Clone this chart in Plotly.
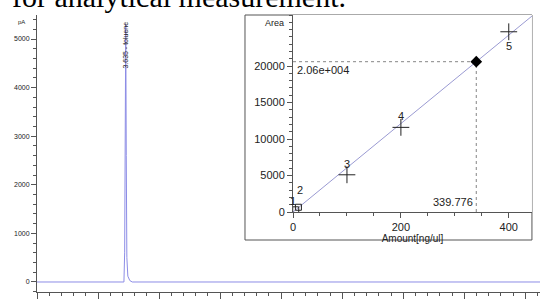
import plotly.graph_objects as go

# Chromatogram (main panel)
chrom_time = [0.0, 3.56, 3.59, 3.61, 3.635, 3.655, 3.68, 3.72, 3.80, 3.90, 20.6]
chrom_signal = [0, 0, 600, 2600, 5300, 2600, 500, 120, 30, 0, 0]
peak_label = "3.635 - toluene"
peak_time = 3.635

# Calibration (inset)
cal_ids = ["1", "2", "3", "4", "5"]
cal_amount = [5, 10, 100, 200, 400]
cal_area = [300, 650, 5100, 11600, 24700]
fit_amount = [0, 443]
fit_area = [0, 26850]
meas_amount = 339.776
meas_area = 20600
meas_area_label = "2.06e+004"
meas_amount_label = "339.776"
inset_yticks = [0, 5000, 10000, 15000, 20000]
inset_xticks = [0, 200, 400]

axis_col = "#555555"
txt_col = "#222222"

fig = go.Figure()

fig.add_trace(go.Scatter(x=chrom_time, y=chrom_signal, mode="lines",
                         line=dict(color="#8c8ce6", width=1), showlegend=False,
                         xaxis="x", yaxis="y"))

# inset traces
fig.add_trace(go.Scatter(x=fit_amount, y=fit_area, mode="lines",
                         line=dict(color="#9a9ad2", width=1), showlegend=False,
                         xaxis="x2", yaxis="y2"))
fig.add_trace(go.Scatter(x=[0, meas_amount], y=[meas_area, meas_area], mode="lines",
                         line=dict(color="#666666", width=0.8, dash="dot"), showlegend=False,
                         xaxis="x2", yaxis="y2"))
fig.add_trace(go.Scatter(x=[meas_amount, meas_amount], y=[0, meas_area], mode="lines",
                         line=dict(color="#666666", width=0.8, dash="dot"), showlegend=False,
                         xaxis="x2", yaxis="y2"))
fig.add_trace(go.Scatter(x=cal_amount[2:], y=cal_area[2:], mode="markers",
                         marker=dict(symbol="cross-thin", size=12, line=dict(color="#222222", width=1)),
                         showlegend=False, xaxis="x2", yaxis="y2"))
fig.add_trace(go.Scatter(x=cal_amount[:2], y=cal_area[:2], mode="markers",
                         marker=dict(symbol="square-open", size=6, color="#222222", line=dict(width=1)),
                         showlegend=False, xaxis="x2", yaxis="y2"))
fig.add_trace(go.Scatter(x=[meas_amount], y=[meas_area], mode="markers",
                         marker=dict(symbol="diamond", size=9, color="black"),
                         showlegend=False, xaxis="x2", yaxis="y2"))

annotations = []
# cut-off title text at top
annotations.append(dict(text="for analytical measurement.", xref="paper", yref="paper",
                        x=-0.054, y=1.0, xanchor="left", yanchor="bottom", showarrow=False,
                        font=dict(family="Liberation Serif", size=30, color="black")))
annotations.append(dict(text="pA", xref="paper", yref="paper", x=-0.02, y=0.975,
                        xanchor="right", yanchor="middle", showarrow=False,
                        font=dict(family="Liberation Sans", size=6, color=txt_col)))
annotations.append(dict(text=peak_label, xref="x", yref="y", x=peak_time, y=4880,
                        textangle=-90, xanchor="center", yanchor="middle", showarrow=False,
                        font=dict(family="Liberation Sans", size=7, color=txt_col)))
# inset labels
lab_font = dict(family="Liberation Sans", size=11, color=txt_col)
annotations.append(dict(text="Area", xref="paper", yref="y2", x=0.495, y=25900,
                        xanchor="right", yanchor="middle", showarrow=False,
                        font=dict(family="Liberation Sans", size=9, color=txt_col)))
annotations.append(dict(text=meas_area_label, xref="x2", yref="y2", x=4, y=meas_area,
                        xanchor="left", yanchor="top", showarrow=False, font=lab_font))
annotations.append(dict(text=meas_amount_label, xref="x2", yref="y2", x=meas_amount - 3, y=300,
                        xanchor="right", yanchor="bottom", showarrow=False, font=lab_font))
offsets = {"1": (-3, 9), "2": (2, 17), "3": (0, 11), "4": (0, 11), "5": (0, -14)}
for i, (a, b) in enumerate(zip(cal_amount, cal_area)):
    dx, dy = offsets[cal_ids[i]]
    annotations.append(dict(text=cal_ids[i], xref="x2", yref="y2", x=a, y=b,
                            xshift=dx, yshift=dy, showarrow=False, font=lab_font))

fig.update_layout(
    width=540, height=300,
    margin=dict(l=37, r=0, t=15, b=8, autoexpand=False),
    plot_bgcolor="white", paper_bgcolor="white",
    font=dict(family="Liberation Sans", color=txt_col),
    showlegend=False,
    annotations=annotations,
    shapes=[dict(type="rect", xref="paper", yref="paper", x0=0.4135, x1=0.984,
                 y0=0.1877, y1=1.0, line=dict(color="#555555", width=1),
                 fillcolor="white", layer="below")],
    xaxis=dict(range=[0, 20.6], showline=True, linecolor=axis_col, linewidth=1, automargin=False,
               ticks="outside", tick0=0, dtick=2.5, ticklen=6, tickcolor=axis_col,
               showticklabels=False, showgrid=False, zeroline=False,
               minor=dict(dtick=0.5, ticks="outside", ticklen=3, tickcolor=axis_col, showgrid=False)),
    yaxis=dict(range=[-206, 5494], showline=True, linecolor=axis_col, linewidth=1, automargin=False,
               ticks="outside", tick0=0, dtick=1000, ticklen=5, tickcolor=axis_col,
               tickfont=dict(size=7, color=txt_col), showgrid=False, zeroline=False,
               minor=dict(dtick=200, ticks="outside", ticklen=3, tickcolor=axis_col, showgrid=False)),
    xaxis2=dict(domain=[0.509, 0.984], anchor="y2", range=[0, 443], automargin=False,
                showline=True, linecolor=axis_col, linewidth=1,
                ticks="outside", tickmode="array", tickvals=inset_xticks,
                ticktext=[str(v) for v in inset_xticks], ticklen=5, tickcolor=axis_col,
                tickfont=dict(size=11, color=txt_col), showgrid=False, zeroline=False,
                title=dict(text="Amount[ng/ul]", font=dict(size=10, color=txt_col), standoff=0),
                minor=dict(tickmode="linear", tick0=0, dtick=50, ticks="outside", ticklen=3,
                           tickcolor=axis_col, showgrid=False)),
    yaxis2=dict(domain=[0.2888, 1.0], anchor="x2", range=[0, 27000], automargin=False,
                showline=True, linecolor=axis_col, linewidth=1,
                ticks="outside", tickmode="array", tickvals=inset_yticks,
                ticktext=[str(v) for v in inset_yticks], ticklen=5, tickcolor=axis_col,
                tickfont=dict(size=11, color=txt_col), showgrid=False, zeroline=False,
                minor=dict(tickmode="linear", tick0=0, dtick=1000, ticks="outside", ticklen=3,
                           tickcolor=axis_col, showgrid=False)),
)

fig.write_html("out.html", config={"displayModeBar": False},
               post_script="document.body.style.margin='0px';document.body.style.overflow='hidden';")
